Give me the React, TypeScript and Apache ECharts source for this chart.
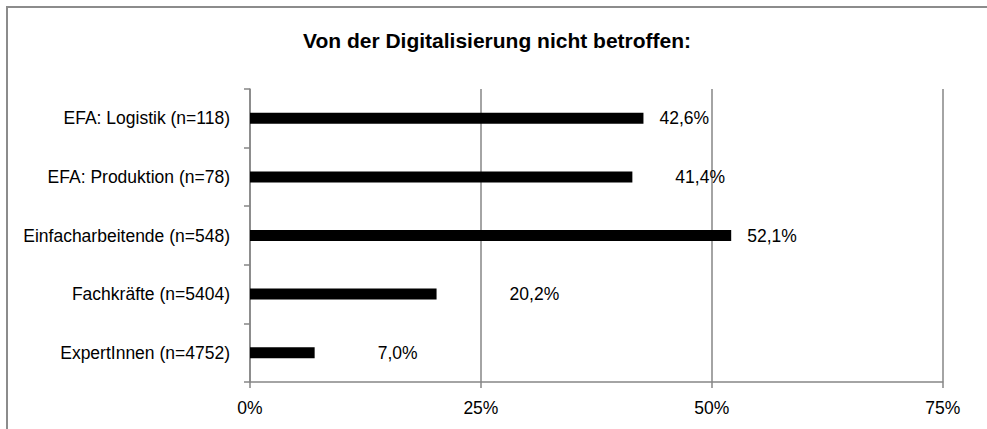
import React, { useEffect, useRef } from "react";
import * as echarts from "echarts";

const categories = [
  "ExpertInnen (n=4752)",
  "Fachkräfte (n=5404)",
  "Einfacharbeitende (n=548)",
  "EFA: Produktion (n=78)",
  "EFA: Logistik (n=118)",
];
const values = [7.0, 20.2, 52.1, 41.4, 42.6];
const labelDistances = [63, 73, 16, 43, 16];
const xTicks = [0, 25, 50, 75];
const titleText = "Von der Digitalisierung nicht betroffen:";

const FONT = "'Liberation Sans', Arial, sans-serif";

export default function App() {
  const ref = useRef<HTMLDivElement>(null);
  useEffect(() => {
    if (!ref.current) return;
    const chart = echarts.init(ref.current, undefined, { renderer: "svg" });
    chart.setOption({
      animation: false,
      backgroundColor: "#ffffff",
      textStyle: { fontFamily: FONT },
      title: {
        text: titleText,
        left: 497,
        top: 30,
        padding: 0,
        textAlign: "center",
        textStyle: { fontFamily: FONT, fontSize: 21, fontWeight: "bold", color: "#000" },
      },
      graphic: [
        {
          type: "rect",
          shape: { x: 7, y: 7, width: 1000, height: 500 },
          style: { fill: "none", stroke: "#8c8c8c", lineWidth: 2 },
          silent: true,
        },
      ],
      grid: {
        left: 250,
        right: 44.3,
        top: 89,
        bottom: 47,
        containLabel: false,
        outerBoundsMode: "none",
      },
      xAxis: {
        type: "value",
        min: xTicks[0],
        max: xTicks[xTicks.length - 1],
        interval: 25,
        axisLine: { show: true, lineStyle: { color: "#868686", width: 1.5 } },
        axisTick: { show: true, length: 6, lineStyle: { color: "#868686", width: 1.5 } },
        splitLine: { show: true, lineStyle: { color: "#868686", width: 1.5 } },
        axisLabel: {
          margin: 17,
          fontSize: 17.5,
          color: "#000",
          fontFamily: FONT,
          formatter: (v: number) => `${v}%`,
        },
      },
      yAxis: {
        type: "category",
        data: categories,
        axisLine: { show: true, lineStyle: { color: "#868686", width: 1.5 } },
        axisTick: { show: true, length: 6, lineStyle: { color: "#868686", width: 1.5 } },
        axisLabel: { margin: 20, fontSize: 17.5, color: "#000", fontFamily: FONT },
      },
      series: [
        {
          type: "bar",
          barWidth: 11,
          itemStyle: { color: "#000000" },
          data: values.map((v, i) => ({
            value: v,
            label: { distance: labelDistances[i] },
          })),
          label: {
            show: true,
            position: "right",
            fontSize: 17.5,
            color: "#000",
            fontFamily: FONT,
            formatter: (p: any) => `${Number(p.value).toFixed(1).replace(".", ",")}%`,
          },
        },
      ],
    });
    return () => chart.dispose();
  }, []);
  return (
    <div
      ref={ref}
      style={{ position: "fixed", left: 0, top: 0, width: 987, height: 429, background: "#fff" }}
    />
  );
}
